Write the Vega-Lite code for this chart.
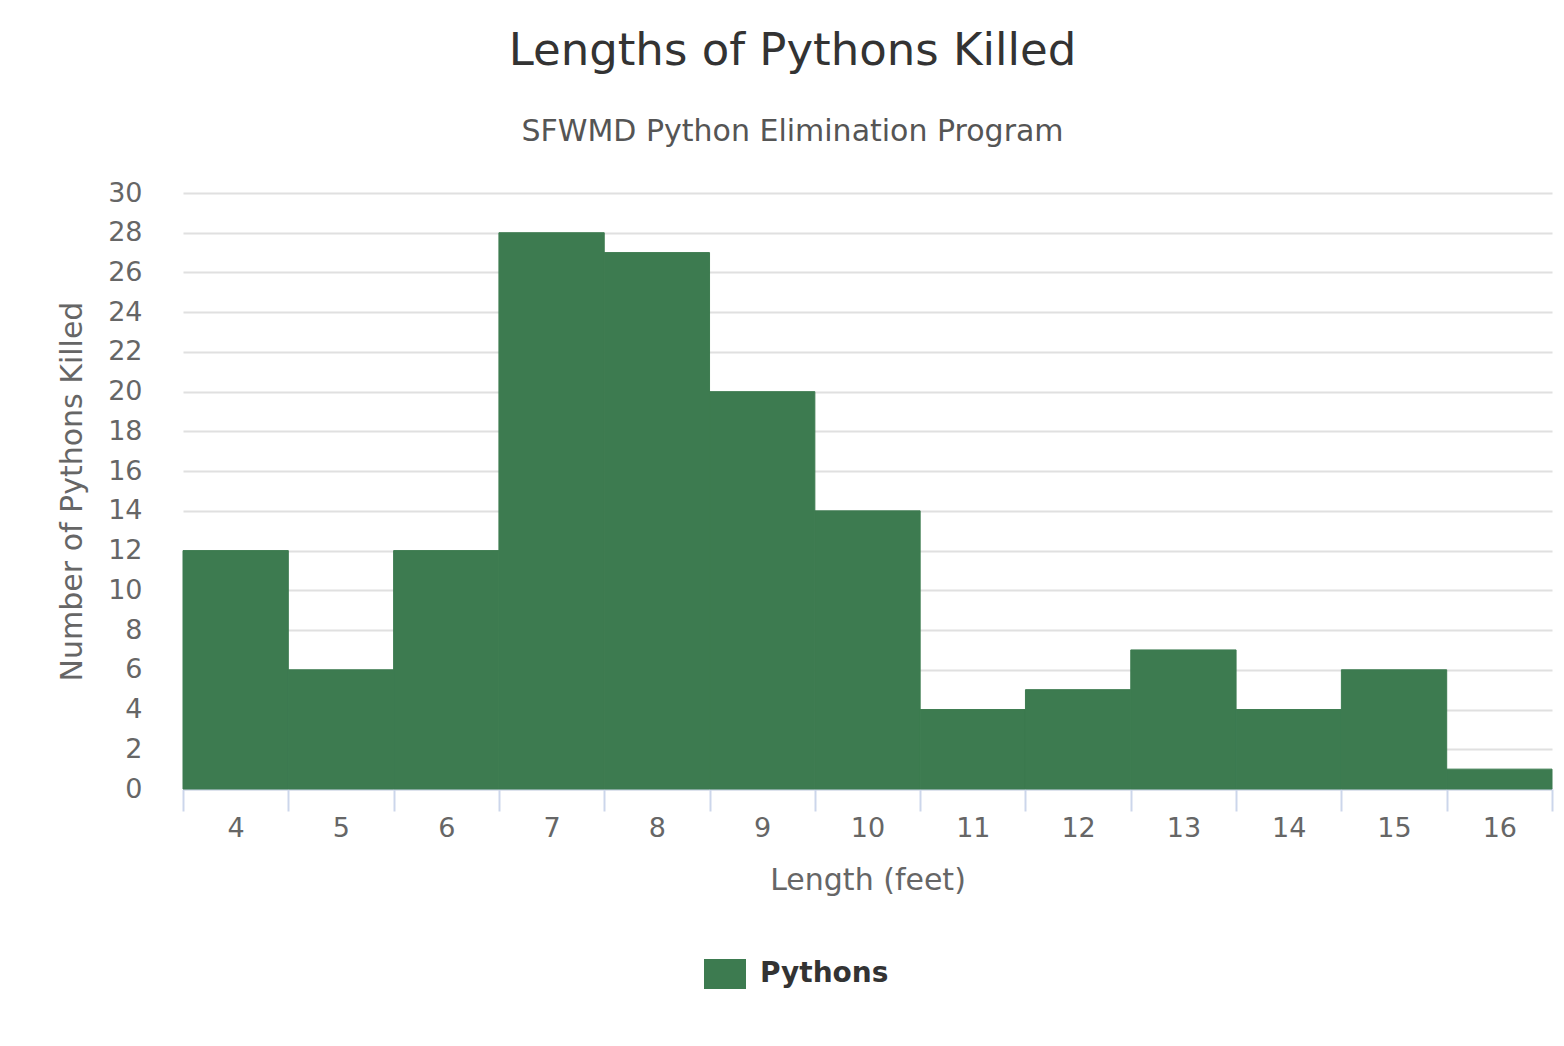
{
  "$schema": "https://vega.github.io/schema/vega-lite/v6.json",
  "autosize": {"type": "none"},
  "width": 1369,
  "height": 596,
  "padding": {"left": 183, "top": 193, "right": 12, "bottom": 257},
  "background": "#ffffff",
  "title": {
    "text": "Lengths of Pythons Killed",
    "subtitle": "SFWMD Python Elimination Program",
    "anchor": "middle",
    "dx": -75,
    "offset": 32,
    "font": "DejaVu Sans",
    "fontSize": 45,
    "fontWeight": "normal",
    "color": "#333333",
    "subtitleFont": "DejaVu Sans",
    "subtitleFontSize": 30,
    "subtitleColor": "#555555",
    "subtitlePadding": 43
  },
  "data": {
    "values": [
      {"length": "4", "count": 12, "series": "Pythons"},
      {"length": "5", "count": 6, "series": "Pythons"},
      {"length": "6", "count": 12, "series": "Pythons"},
      {"length": "7", "count": 28, "series": "Pythons"},
      {"length": "8", "count": 27, "series": "Pythons"},
      {"length": "9", "count": 20, "series": "Pythons"},
      {"length": "10", "count": 14, "series": "Pythons"},
      {"length": "11", "count": 4, "series": "Pythons"},
      {"length": "12", "count": 5, "series": "Pythons"},
      {"length": "13", "count": 7, "series": "Pythons"},
      {"length": "14", "count": 4, "series": "Pythons"},
      {"length": "15", "count": 6, "series": "Pythons"},
      {"length": "16", "count": 1, "series": "Pythons"}
    ]
  },
  "mark": {"type": "bar", "stroke": "#3d7b50", "strokeWidth": 1},
  "encoding": {
    "x": {
      "field": "length",
      "type": "ordinal",
      "sort": null,
      "scale": {"paddingInner": 0, "paddingOuter": 0},
      "axis": {
        "title": "Length (feet)",
        "labelAngle": 0,
        "tickBand": "extent",
        "grid": false,
        "domainColor": "#ccd6eb",
        "domainWidth": 2,
        "tickColor": "#ccd6eb",
        "tickWidth": 2,
        "tickSize": 22,
        "labelPadding": 4,
        "labelFont": "DejaVu Sans",
        "labelFontSize": 27,
        "labelColor": "#666666",
        "titleFont": "DejaVu Sans",
        "titleFontSize": 30,
        "titleFontWeight": "normal",
        "titleColor": "#666666",
        "titlePadding": 24
      }
    },
    "y": {
      "field": "count",
      "type": "quantitative",
      "scale": {"domain": [0, 30], "nice": false},
      "axis": {
        "title": "Number of Pythons Killed",
        "values": [0, 2, 4, 6, 8, 10, 12, 14, 16, 18, 20, 22, 24, 26, 28, 30],
        "domain": false,
        "ticks": false,
        "grid": true,
        "gridColor": "#e0e0e0",
        "gridWidth": 2,
        "labelPadding": 41,
        "labelFont": "DejaVu Sans",
        "labelFontSize": 27,
        "labelColor": "#666666",
        "titleFont": "DejaVu Sans",
        "titleFontSize": 30,
        "titleFontWeight": "normal",
        "titleColor": "#666666",
        "titlePadding": 20
      }
    },
    "color": {
      "field": "series",
      "type": "nominal",
      "scale": {"range": ["#3d7b50"]},
      "legend": {
        "title": null,
        "orient": "none",
        "legendX": 527,
        "legendY": 766,
        "padding": 0,
        "symbolType": "M-1.4,-1H1.4V1H-1.4Z",
        "symbolSize": 900,
        "symbolStrokeWidth": 0,
        "symbolOpacity": 1,
        "labelFont": "DejaVu Sans",
        "labelFontSize": 28,
        "labelFontWeight": "bold",
        "labelColor": "#333333",
        "labelOffset": 20
      }
    }
  },
  "config": {"view": {"stroke": null}}
}
